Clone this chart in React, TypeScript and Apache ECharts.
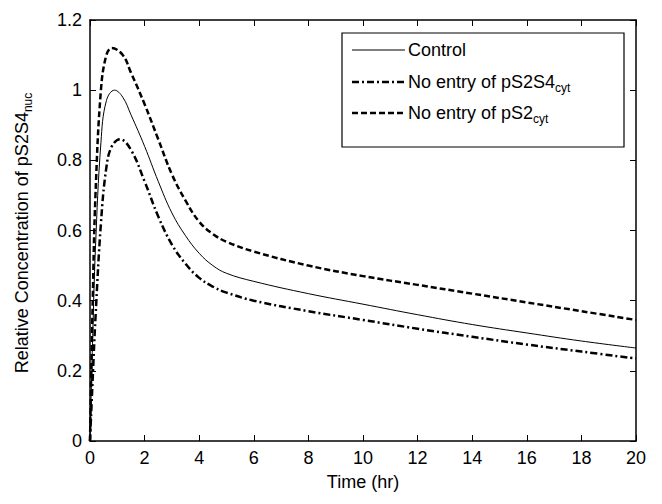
import { useEffect, useRef } from 'react';
import * as echarts from 'echarts';

const timeControl = [0, 0.1, 0.2, 0.4, 0.6, 0.9, 1.2, 1.5, 2, 2.5, 3, 3.5, 4, 4.5, 5, 6, 8, 10, 12, 14, 16, 18, 20];
const control = [0, 0.3, 0.55, 0.85, 0.97, 1.0, 0.98, 0.93, 0.84, 0.74, 0.65, 0.585, 0.535, 0.5, 0.478, 0.455, 0.42, 0.39, 0.36, 0.332, 0.308, 0.285, 0.265];
const timePS2 = [0, 0.1, 0.2, 0.4, 0.6, 0.8, 1.2, 1.5, 2, 2.5, 3, 3.5, 4, 4.5, 5, 6, 8, 10, 12, 14, 16, 18, 20];
const noPS2 = [0, 0.4, 0.7, 1.0, 1.1, 1.12, 1.1, 1.05, 0.96, 0.86, 0.76, 0.685, 0.625, 0.59, 0.568, 0.54, 0.5, 0.47, 0.445, 0.42, 0.395, 0.37, 0.345];
const timePS2S4 = [0, 0.1, 0.2, 0.4, 0.6, 0.8, 1.1, 1.5, 2, 2.5, 3, 3.5, 4, 4.5, 5, 6, 8, 10, 12, 14, 16, 18, 20];
const noPS2S4 = [0, 0.18, 0.35, 0.62, 0.78, 0.84, 0.86, 0.83, 0.74, 0.64, 0.56, 0.505, 0.465, 0.44, 0.423, 0.4, 0.37, 0.345, 0.32, 0.297, 0.275, 0.255, 0.235];

const font = 'Liberation Sans, Arial, sans-serif';
const pairs = (t: number[], v: number[]) => t.map((x, i) => [x, v[i]]);

export default function App() {
  const ref = useRef<HTMLDivElement | null>(null);
  useEffect(() => {
    if (!ref.current) return;
    const chart = echarts.init(ref.current, null, { renderer: 'svg' });
    const axisCommon = {
      axisLine: { onZero: false, lineStyle: { color: '#000', width: 1.5 } },
      axisTick: { inside: true, length: 6, lineStyle: { color: '#000' } },
      splitLine: { show: false },
    };
    const labelStyle = { color: '#000', fontFamily: font, fontSize: 18 };
    const sub = { fontSize: 12, fontFamily: font, fill: '#000' };
    const rowText = (y: number, main: string, s: string) => ({
      type: 'text', x: 400, y, style: {
        text: `${main}{s|${s}}`, fontFamily: font, fontSize: 18, fill: '#000',
        verticalAlign: 'middle', rich: { s: { ...sub, padding: [12, 0, 0, 0] } },
      },
    });
    chart.setOption({
      animation: false,
      grid: { left: 82, right: 18, top: 12, bottom: 50 },
      xAxis: [
        { type: 'value', min: 0, max: 20, interval: 2, ...axisCommon, axisLabel: { ...labelStyle, margin: 8 },
          name: 'Time (hr)', nameLocation: 'middle', nameGap: 32, nameTextStyle: labelStyle },
        { type: 'value', position: 'top', min: 0, max: 20, interval: 2, ...axisCommon, axisLabel: { show: false } },
      ],
      yAxis: [
        { type: 'value', min: 0, max: 1.2, interval: 0.2, ...axisCommon,
          axisLabel: { ...labelStyle, margin: 8, formatter: (v: number) => String(+v.toFixed(1)) } },
        { type: 'value', position: 'right', min: 0, max: 1.2, interval: 0.2, ...axisCommon, axisLabel: { show: false } },
      ],
      series: [
        { type: 'line', data: pairs(timeControl, control), smooth: 0.4, showSymbol: false, lineStyle: { color: '#000', width: 1 } },
        { type: 'line', data: pairs(timePS2S4, noPS2S4), smooth: 0.4, showSymbol: false, lineStyle: { color: '#000', width: 2.5, type: [7, 3, 2, 3] } },
        { type: 'line', data: pairs(timePS2, noPS2), smooth: 0.4, showSymbol: false, lineStyle: { color: '#000', width: 2.5, type: [6, 3] } },
      ],
      graphic: [
        { type: 'rect', shape: { x: 334, y: 25, width: 282, height: 114 }, style: { fill: '#fff', stroke: '#000', lineWidth: 1.2 }, z: 10 },
        { type: 'line', shape: { x1: 344, y1: 42, x2: 397, y2: 42 }, style: { stroke: '#000', lineWidth: 1 }, z: 11 },
        { type: 'line', shape: { x1: 344, y1: 74, x2: 397, y2: 74 }, style: { stroke: '#000', lineWidth: 2.5, lineDash: [7, 3, 2, 3] }, z: 11 },
        { type: 'line', shape: { x1: 344, y1: 105, x2: 397, y2: 105 }, style: { stroke: '#000', lineWidth: 2.5, lineDash: [6, 3] }, z: 11 },
        { type: 'text', x: 400, y: 42, z: 11, style: { text: 'Control', fontFamily: font, fontSize: 18, fill: '#000', verticalAlign: 'middle' } },
        { ...rowText(74, 'No entry of pS2S4', 'cyt'), z: 11 },
        { ...rowText(105, 'No entry of pS2', 'cyt'), z: 11 },
        { type: 'text', x: 14, y: 225, rotation: Math.PI / 2, z: 11, style: {
          text: 'Relative Concentration of pS2S4{s|nuc}', fontFamily: font, fontSize: 18, fill: '#000',
          align: 'center', verticalAlign: 'middle', rich: { s: { ...sub, padding: [12, 0, 0, 0] } } } },
      ],
    });
    return () => chart.dispose();
  }, []);
  return <div ref={ref} style={{ width: 646, height: 488 }} />;
}
